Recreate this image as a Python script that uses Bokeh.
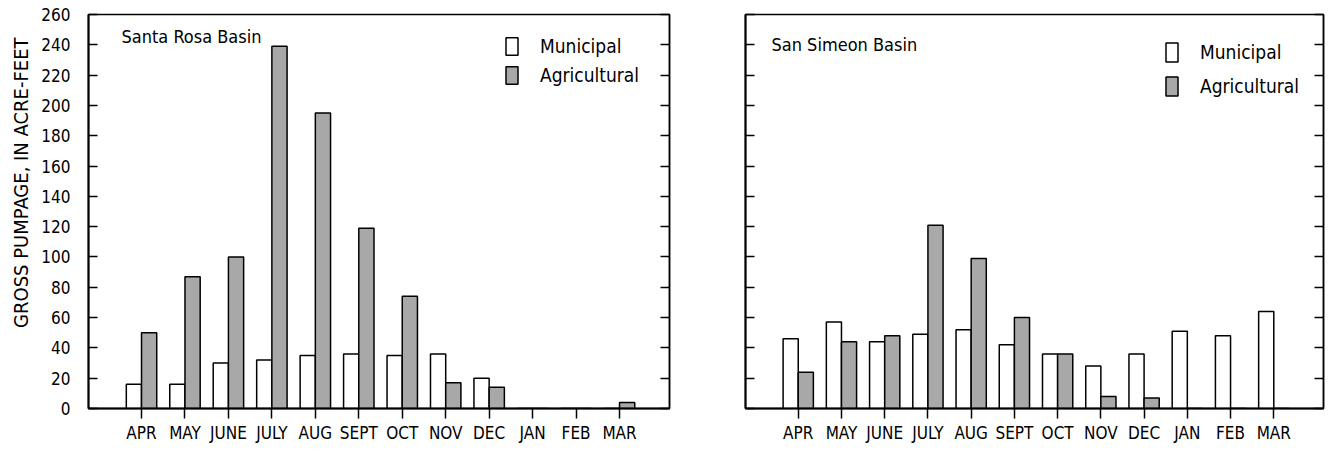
import math
from bokeh.plotting import figure
from bokeh.layouts import row
from bokeh.models import (ColumnDataSource, FixedTicker, LinearAxis, Range1d,
                          Legend, LegendItem, Label, Title)
from bokeh.transform import dodge
from bokeh.embed import file_html
from bokeh.resources import INLINE

months = ["APR", "MAY", "JUNE", "JULY", "AUG", "SEPT", "OCT", "NOV", "DEC", "JAN", "FEB", "MAR"]
month_pos = [1, 2, 3, 4, 5, 6, 7, 8, 9, 10, 11, 12]
santa_rosa_municipal = [16, 16, 30, 32, 35, 36, 35, 36, 20, 0, 0, 0]
santa_rosa_agricultural = [50, 87, 100, 239, 195, 119, 74, 17, 14, 0, 0, 4]
san_simeon_municipal = [46, 57, 44, 49, 52, 42, 36, 28, 36, 51, 48, 64]
san_simeon_agricultural = [24, 44, 48, 121, 99, 60, 36, 8, 7, 0, 0, 0]
y_ticks = [0, 20, 40, 60, 80, 100, 120, 140, 160, 180, 200, 220, 240, 260]
y_tick_labels = ["0", "20", "40", "60", "80", "100", "120", "140", "160", "180", "200", "220", "240", "260"]
y_label = "GROSS PUMPAGE, IN ACRE-FEET"

FONT = "DejaVu Sans Condensed"
AG_FILL = "#a8a8a8"


def make_panel(title, muni, ag, show_ylabels, border_left, border_right, frame_w,
               legend_loc, legend_gh, legend_sp, title_xy):
    p = figure(frame_width=frame_w, frame_height=394,
               min_border_left=border_left, min_border_right=border_right,
               min_border_top=14, min_border_bottom=30,
               x_range=Range1d(-0.22, 13.15), y_range=Range1d(0, 260),
               output_backend="svg", toolbar_location=None)
    p.xgrid.visible = False
    p.ygrid.visible = False
    p.background_fill_color = "white"
    p.border_fill_color = "white"
    p.outline_line_color = "black"
    p.outline_line_width = 1.5

    src = ColumnDataSource(dict(x=month_pos, muni=muni, ag=ag))
    r1 = p.vbar(x=dodge("x", -0.175), top="muni", bottom=0, width=0.35, source=src,
                fill_color="white", line_color="black", line_width=1.5)
    r2 = p.vbar(x=dodge("x", 0.175), top="ag", bottom=0, width=0.35, source=src,
                fill_color=AG_FILL, line_color="black", line_width=1.5)

    # x axis
    xa = p.xaxis[0]
    xa.ticker = FixedTicker(ticks=month_pos)
    xa.major_label_overrides = {m: lab for m, lab in zip(month_pos, months)}
    xa.major_tick_in = 0
    xa.major_tick_out = 10
    xa.minor_tick_line_color = None
    xa.major_tick_line_width = 1.5
    xa.axis_line_width = 2
    xa.major_label_standoff = 4
    xa.major_label_text_font = FONT
    xa.major_label_text_font_size = "17px"
    xa.major_label_text_color = "black"

    # left y axis
    ya = p.yaxis[0]
    ya.ticker = FixedTicker(ticks=y_ticks)
    ya.major_tick_in = 9
    ya.major_tick_out = 0
    ya.minor_tick_line_color = None
    ya.major_tick_line_width = 1.5
    ya.axis_line_width = 2
    ya.major_label_text_font = FONT
    ya.major_label_text_color = "black"
    if show_ylabels:
        ya.major_label_overrides = {t: s for t, s in zip(y_ticks, y_tick_labels)}
        ya.major_label_text_font_size = "17px"
        ya.major_label_standoff = 18
    else:
        ya.major_label_overrides = {t: "" for t in y_ticks}
        ya.major_label_text_font_size = "10px"
        ya.major_label_standoff = 0

    # right y axis (ticks only)
    ra = LinearAxis(ticker=FixedTicker(ticks=y_ticks))
    ra.major_tick_in = 9
    ra.major_tick_out = 0
    ra.minor_tick_line_color = None
    ra.major_tick_line_width = 1.5
    ra.axis_line_width = 1.5
    ra.major_label_overrides = {t: "" for t in y_ticks}
    ra.major_label_text_font_size = "10px"
    ra.major_label_standoff = 0
    p.add_layout(ra, "right")

    legend = Legend(items=[LegendItem(label="Municipal", renderers=[r1]),
                           LegendItem(label="Agricultural", renderers=[r2])],
                    location=legend_loc, glyph_width=15, glyph_height=legend_gh,
                    spacing=legend_sp, label_standoff=21, padding=0, margin=0,
                    label_text_font=FONT, label_text_font_size="19px",
                    label_text_color="black", border_line_alpha=0,
                    background_fill_alpha=0, label_height=legend_gh)
    p.add_layout(legend)

    p.add_layout(Label(x=title_xy[0], y=title_xy[1], x_units="screen", y_units="screen",
                       text=title, text_font=FONT, text_font_size="18px",
                       text_color="black", text_baseline="top", text_align="left"))
    return p


p1 = make_panel("Santa Rosa Basin", santa_rosa_municipal, santa_rosa_agricultural,
                True, 82, 20, 581, (416, 322), 22, 7, (33, 383))
p1.add_layout(Title(text=y_label, align="right", offset=23, standoff=12,
                    text_font=FONT, text_font_size="20px", text_font_style="normal",
                    text_color="black"), "left")

p2 = make_panel("San Simeon Basin", san_simeon_municipal, san_simeon_agricultural,
                False, 56, 2, 578, (419, 310), 24, 10, (26, 375))

layout = row(p1, p2)
open("out.html", "w").write(file_html(layout, INLINE))
